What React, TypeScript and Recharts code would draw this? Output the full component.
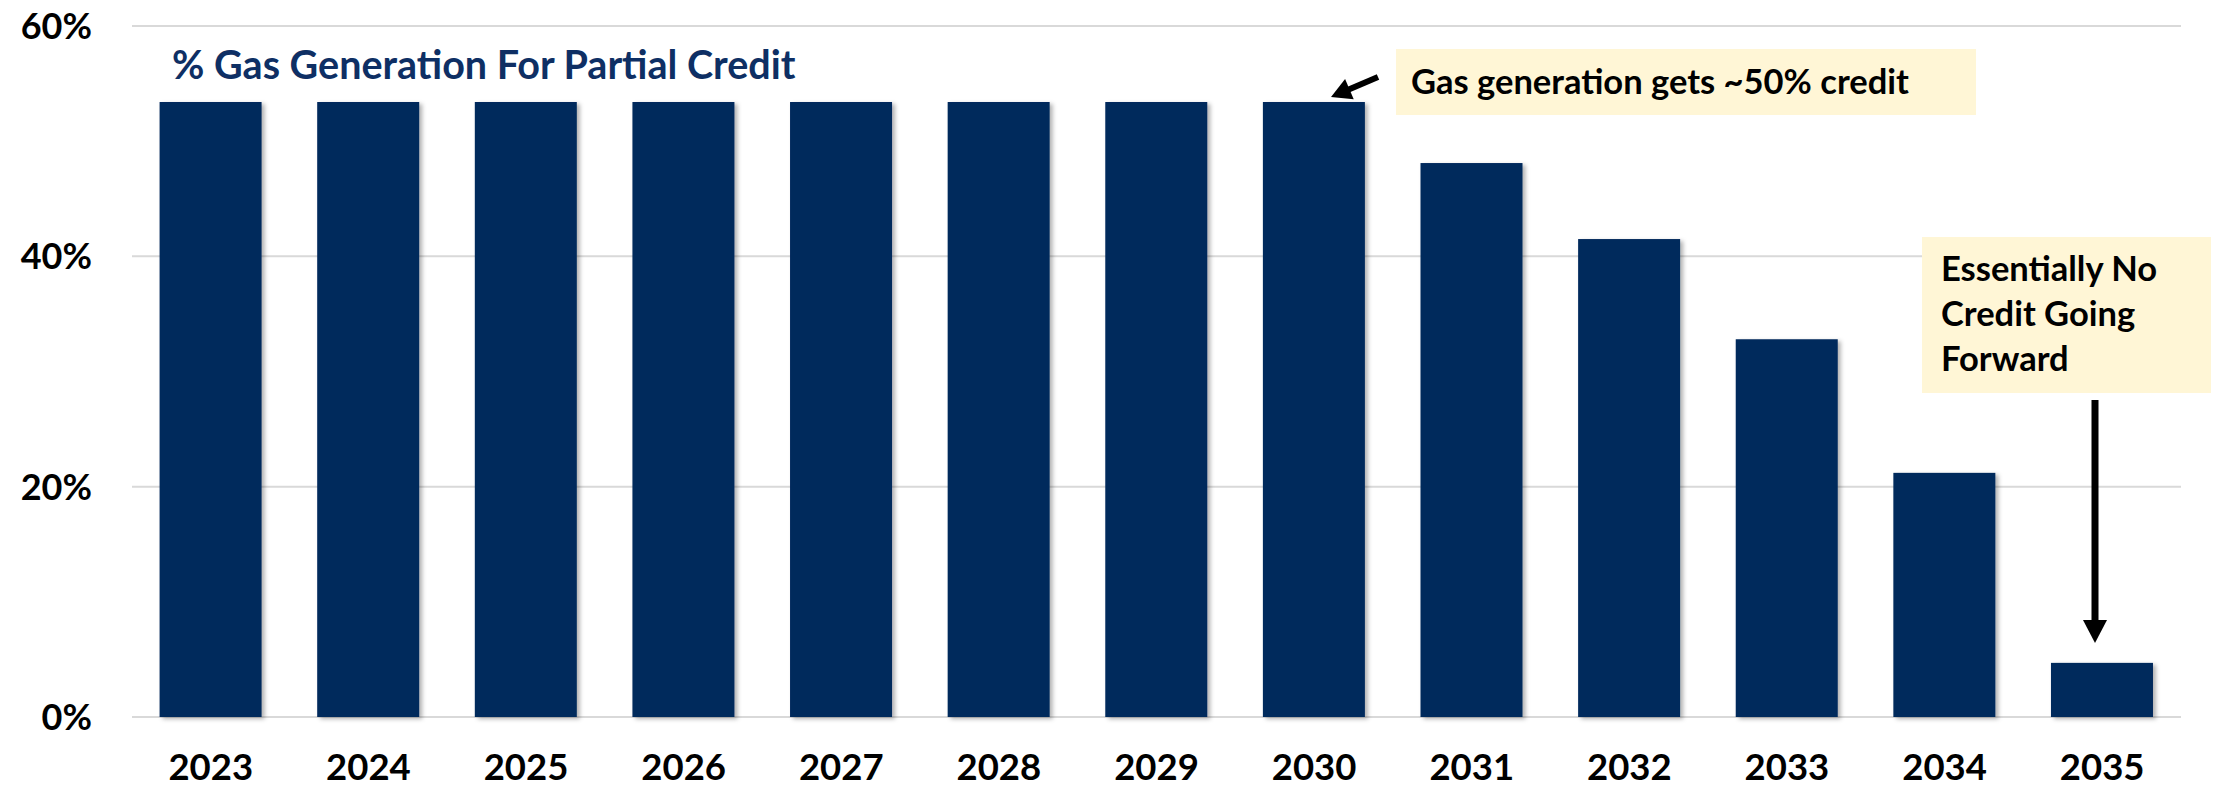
import React from "react"
import { BarChart, Bar, XAxis, YAxis, CartesianGrid } from "recharts"

// values
const years = ["2023", "2024", "2025", "2026", "2027", "2028", "2029", "2030", "2031", "2032", "2033", "2034", "2035"]
const gasCreditPct = [53.4, 53.4, 53.4, 53.4, 53.4, 53.4, 53.4, 53.4, 48.1, 41.5, 32.8, 21.2, 4.7]
const yTicks = [0, 20, 40, 60]

const chartTitle = "% Gas Generation For Partial Credit"
const noteTop = "Gas generation gets ~50% credit"
const noteRight = ["Essentially No", "Credit Going", "Forward"]

const chartData = years.map((year, i) => ({ year, credit: gasCreditPct[i] }))

const FONT = "Lato, 'Open Sans', sans-serif"
const NAVY = "#00295c"
const NOTE_BG = "#fff6d6"

function YTick(props: any) {
  const { x, y, payload } = props
  return (
    <text x={x} y={y} dy={13} textAnchor="end" fontFamily={FONT} fontWeight={700} fontSize={36} fill="#000">
      {payload.value}%
    </text>
  )
}

function XTick(props: any) {
  const { x, y, payload } = props
  return (
    <text x={x} y={y} dy={63} textAnchor="middle" fontFamily={FONT} fontWeight={700} fontSize={36.5} fill="#000">
      {payload.value}
    </text>
  )
}

function ShadowBar(props: any) {
  const { x, y, width, height } = props
  if (!height || height <= 0) return null
  return <rect x={x} y={y} width={width} height={height} fill={NAVY} filter="url(#barShadow)" />
}

// straight arrow with a filled head at (x2, y2)
function Arrow({ x1, y1, x2, y2, head = 20, half = 11, w = 6 }: any) {
  const dx = x2 - x1
  const dy = y2 - y1
  const len = Math.sqrt(dx * dx + dy * dy)
  const ux = dx / len
  const uy = dy / len
  const bx = x2 - ux * head
  const by = y2 - uy * head
  const pts = `${x2},${y2} ${bx - uy * half},${by + ux * half} ${bx + uy * half},${by - ux * half}`
  return (
    <g>
      <line x1={x1} y1={y1} x2={bx + ux * 2} y2={by + uy * 2} stroke="#000" strokeWidth={w} />
      <polygon points={pts} fill="#000" />
    </g>
  )
}

export default function App() {
  return (
    <div style={{ position: "absolute", left: 0, top: 0, width: 2226, height: 788, background: "#fff" }}>
      <svg width={0} height={0} style={{ position: "absolute" }}>
        <defs>
          <filter id="barShadow" x="-10%" y="-10%" width="130%" height="130%">
            <feDropShadow dx={3} dy={2} stdDeviation={2} floodColor="#000" floodOpacity={0.3} />
          </filter>
        </defs>
      </svg>
      <BarChart
        width={2226}
        height={788}
        data={chartData}
        margin={{ top: 26, right: 45, bottom: 0, left: 0 }}
        barCategoryGap="17.5%"
      >
        <CartesianGrid vertical={false} stroke="#d9d9d9" strokeWidth={2} />
        <XAxis dataKey="year" axisLine={false} tickLine={false} tickSize={0} tickMargin={0} height={71} tick={<XTick />} interval={0} />
        <YAxis
          domain={[0, 60]}
          ticks={yTicks}
          axisLine={false}
          tickLine={false}
          tickSize={0}
          tickMargin={40}
          width={132}
          tick={<YTick />}
        />
        <Bar dataKey="credit" fill={NAVY} shape={<ShadowBar />} isAnimationActive={false} />
      </BarChart>
      <svg width={2226} height={788} style={{ position: "absolute", left: 0, top: 0, pointerEvents: "none" }}>
        <text x={172} y={79} fontFamily={FONT} fontWeight={700} fontSize={39.5} fill="#0e2f64">
          {chartTitle}
        </text>

        <rect x={1396} y={49} width={580} height={66} fill={NOTE_BG} />
        <text x={1411} y={94} fontFamily={FONT} fontWeight={700} fontSize={34.5} fill="#000">
          {noteTop}
        </text>
        <Arrow x1={1378} y1={77} x2={1331} y2={97} head={20} half={11} w={6} />

        <rect x={1922} y={237} width={289} height={156} fill={NOTE_BG} />
        {noteRight.map((line, i) => (
          <text key={line} x={1941} y={281 + i * 45} fontFamily={FONT} fontWeight={700} fontSize={34.5} fill="#000">
            {line}
          </text>
        ))}
        <Arrow x1={2095} y1={400} x2={2095} y2={643} head={23} half={12} w={7} />
      </svg>
    </div>
  )
}
